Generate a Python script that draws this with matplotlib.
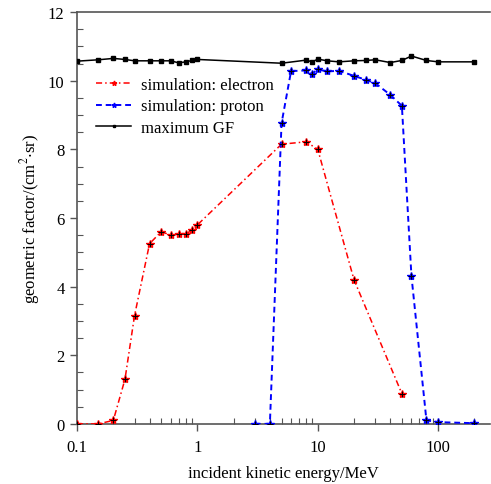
import numpy as np
import matplotlib
matplotlib.use('Agg')
import matplotlib.pyplot as plt
from matplotlib.ticker import FixedLocator, FuncFormatter, MultipleLocator, LogLocator, NullFormatter

plt.rcParams['font.family'] = ['Liberation Serif', 'DejaVu Serif']
plt.rcParams['mathtext.fontset'] = 'stix'

# electron simulation
e_energy = [0.1, 0.15, 0.2, 0.25, 0.3, 0.4, 0.5, 0.6, 0.7, 0.8, 0.9, 1.0, 5, 8, 10, 20, 50]
e_gf = [0.0, 0.0, 0.1, 1.3, 3.15, 5.25, 5.6, 5.5, 5.53, 5.53, 5.65, 5.8, 8.15, 8.22, 8.0, 4.2, 0.88]

# proton simulation
p_energy = [3, 4, 5, 6, 8, 9, 10, 12, 15, 20, 25, 30, 40, 50, 60, 80, 100, 200]
p_gf = [0.0, 0.0, 8.76, 10.28, 10.3, 10.21, 10.33, 10.27, 10.29, 10.14, 10.03, 9.93, 9.59, 9.27, 4.32, 0.1, 0.05, 0.02]

# maximum geometric factor
m_energy = [0.1, 0.15, 0.2, 0.25, 0.3, 0.4, 0.5, 0.6, 0.7, 0.8, 0.9, 1.0,
            5, 8, 9, 10, 12, 15, 20, 25, 30, 40, 50, 60, 80, 100, 200]
m_gf = [10.57, 10.61, 10.65, 10.62, 10.58, 10.58, 10.58, 10.58, 10.52, 10.55, 10.59, 10.62,
        10.51, 10.6, 10.55, 10.63, 10.58, 10.55, 10.58, 10.59, 10.61, 10.53, 10.59, 10.72, 10.59, 10.55, 10.55]

fig = plt.figure(figsize=(4.91, 4.85), dpi=100)
ax = fig.add_axes([0.157, 0.124, 0.841, 0.849])

ax.plot(e_energy, e_gf, color='red', linestyle=(0, (4, 2, 1, 2)), linewidth=1.1,
        marker='*', markersize=6, markerfacecolor='red', markeredgecolor='red', label='simulation: electron', zorder=3)
ax.plot(e_energy, e_gf, linestyle='none', marker='+', markersize=5, color='black', markeredgewidth=0.7, zorder=4)

ax.plot(p_energy, p_gf, color='blue', linestyle=(0, (3, 2)), linewidth=1.4,
        marker='*', markersize=6, markerfacecolor='blue', markeredgecolor='blue', label='simulation: proton', zorder=3)
ax.plot(p_energy, p_gf, linestyle='none', marker='+', markersize=5, color='black', markeredgewidth=0.7, zorder=4)

ax.plot(m_energy, m_gf, color='black', linestyle='-', linewidth=1.1,
        marker='s', markersize=3, label='maximum GF', zorder=3)

ax.set_xscale('log')
ax.set_xlim(0.1, 270)
ax.set_ylim(0, 12)

ax.xaxis.set_major_locator(FixedLocator([0.1, 1, 10, 100]))
ax.xaxis.set_major_formatter(FuncFormatter(lambda v, p: '%g' % v))
ax.xaxis.set_minor_locator(LogLocator(base=10, subs=np.arange(2, 10)))
ax.xaxis.set_minor_formatter(NullFormatter())
ax.yaxis.set_major_locator(MultipleLocator(2))
ax.yaxis.set_minor_locator(MultipleLocator(0.5))

axis_col = '#555555'
for side in ['left', 'bottom', 'top']:
    ax.spines[side].set_color(axis_col)
    ax.spines[side].set_linewidth(1.2)
ax.spines['right'].set_visible(False)

ax.tick_params(which='major', direction='out', length=5, width=1, color=axis_col, labelsize=12)
ax.tick_params(axis='x', which='major', pad=6)
ax.tick_params(axis='y', which='major', pad=4)
ax.tick_params(which='minor', direction='in', length=4, width=0.8, color=axis_col)
ax.tick_params(top=False, right=False)

ax.set_xlabel('incident kinetic energy/MeV', fontsize=12, labelpad=7)
ax.set_ylabel('geometric factor/(cm$^2$$\\cdot$sr)', fontsize=12, labelpad=4)

leg = ax.legend(loc='upper left', bbox_to_anchor=(0.01, 0.88), frameon=False, fontsize=12,
                handlelength=2.1, handletextpad=0.6, labelspacing=0.35, markerscale=0.6)

fig.savefig('out.png', dpi=100)
